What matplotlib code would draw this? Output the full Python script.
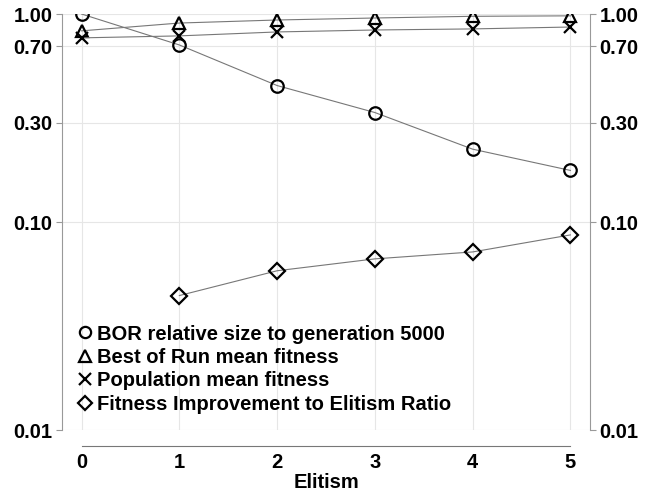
import matplotlib
matplotlib.use("Agg")
import matplotlib.pyplot as plt

plt.rcParams['font.family'] = ['Liberation Sans', 'DejaVu Sans']
plt.rcParams['font.weight'] = 'bold'

elitism = [0, 1, 2, 3, 4, 5]
bor_size = [1.0, 0.71, 0.453, 0.336, 0.224, 0.177]
bor_fitness = [0.83, 0.905, 0.936, 0.957, 0.975, 0.98]
pop_fitness = [0.768, 0.785, 0.82, 0.838, 0.848, 0.866]
ratio_x = [1, 2, 3, 4, 5]
ratio = [0.0443, 0.0583, 0.0665, 0.0718, 0.0867]

yticks = [0.01, 0.10, 0.30, 0.70, 1.00]
ytick_labels = ["0.01", "0.10", "0.30", "0.70", "1.00"]

fs = 14.5

fig = plt.figure(figsize=(6.57, 4.92), dpi=100)
ax = fig.add_axes([0.0944, 0.126, 0.898 - 0.0944, 0.9715 - 0.126])

style = dict(color='#777777', lw=0.8, mfc='none', mec='black', mew=1.6, ms=9)
ax.plot(elitism, bor_size, marker='o', label='BOR relative size to generation 5000', **style)
ax.plot(elitism, bor_fitness, marker='^', label='Best of Run mean fitness', **style)
ax.plot(elitism, pop_fitness, marker='x', label='Population mean fitness', **style)
ax.plot(ratio_x, ratio, marker='D', label='Fitness Improvement to Elitism Ratio',
        **dict(style, ms=8))

ax.set_yscale('log')
ax.set_ylim(0.01, 1.0)
ax.set_xlim(-0.2, 5.2)
ax.set_yticks(yticks)
ax.set_yticklabels(ytick_labels)
ax.minorticks_off()
ax.set_xticks(elitism)
ax.grid(True, color='#e6e6e6', lw=0.8)
ax.set_axisbelow(True)

for s in ['top', 'right']:
    ax.spines[s].set_visible(False)
ax.spines['left'].set_color('#999999')
ax.spines['left'].set_bounds(0.01, 1.0)
ax.spines['bottom'].set_color('#777777')
ax.spines['bottom'].set_position(('outward', 11.5))
ax.spines['bottom'].set_bounds(0, 5)
ax.tick_params(axis='y', colors='#999999', labelcolor='black', labelsize=fs, length=4, pad=3)
ax.tick_params(axis='x', colors='#777777', labelcolor='black', labelsize=fs, length=0, pad=5)
ax.set_xlabel('Elitism', fontsize=fs, fontweight='bold', labelpad=1)

ax2 = ax.twinx()
ax2.set_yscale('log')
ax2.set_ylim(0.01, 1.0)
ax2.set_yticks(yticks)
ax2.set_yticklabels(ytick_labels)
ax2.minorticks_off()
for s in ['top', 'left', 'bottom']:
    ax2.spines[s].set_visible(False)
ax2.spines['right'].set_color('#999999')
ax2.spines['right'].set_bounds(0.01, 1.0)
ax2.tick_params(axis='y', colors='#999999', labelcolor='black', labelsize=fs, length=4, pad=3)

leg = ax.legend(loc='lower left', bbox_to_anchor=(0.005, 0.005), frameon=False,
                handlelength=0.6, handletextpad=0.3, labelspacing=0.22,
                borderpad=0.2, markerscale=0.9, prop={'weight': 'bold', 'size': fs})
for h in leg.legend_handles:
    h.set_linestyle('none')

fig.savefig('out.png', dpi=100)
